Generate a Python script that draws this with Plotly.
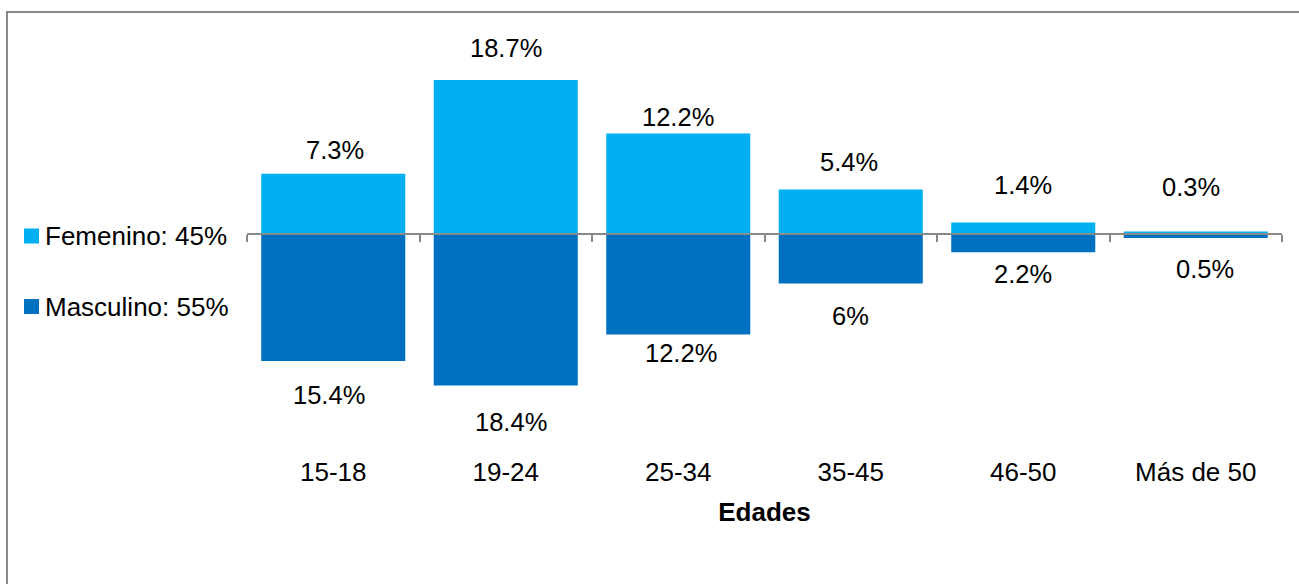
import plotly.graph_objects as go

# Age groups and share of each sex per group (%)
edades = ["15-18", "19-24", "25-34", "35-45", "46-50", "Más de 50"]
femenino = [7.3, 18.7, 12.2, 5.4, 1.4, 0.3]
masculino = [15.4, 18.4, 12.2, 6, 2.2, 0.5]
total_femenino = 45
total_masculino = 55

AZUL_CLARO = "#00B0F0"
AZUL = "#0070C0"
GRIS = "#898989"
FUENTE = "Arial, 'Liberation Sans', sans-serif"
TAM = 26
TAM_ETIQ = 25.5

# Page geometry (pixels)
W, H = 1299, 584
L, R, T, B = 247, 17, 30, 144
plot_w = W - L - R
plot_h = H - T - B
eje_px = 234            # vertical pixel of the zero line
px_por_unidad = 8.24
y_max = (eje_px - T) / px_por_unidad
y_min = -(H - B - eje_px) / px_por_unidad

# Label placement: pixel gap between bar end and label centre, plus small nudges
sep_fem = [24, 32, 16, 28, 37, 45]
sep_masc = [34, 36, 18, 33, 22, 31]
dx_fem = [2, 0, 0, -2, 0, -5]
dx_masc = [-4, 5, 3, 0, 0, 9]


def px_x(px):
    return (px - L) / plot_w


def px_y(py):
    return (H - B - py) / plot_h


fig = go.Figure()
fig.add_trace(go.Bar(x=edades, y=femenino, marker=dict(color=AZUL_CLARO, line=dict(width=0)),
                     name="Femenino", showlegend=False, hoverinfo="skip"))
fig.add_trace(go.Bar(x=edades, y=[-v for v in masculino], marker=dict(color=AZUL, line=dict(width=0)),
                     name="Masculino", showlegend=False, hoverinfo="skip"))
# carrier for the zero axis with boundary ticks
fig.add_trace(go.Scatter(x=edades, y=[0] * len(edades), xaxis="x2", mode="none",
                         showlegend=False, hoverinfo="skip"))

anotaciones = []
for i, (cat, v) in enumerate(zip(edades, femenino)):
    anotaciones.append(dict(x=cat, y=v, yshift=sep_fem[i], xshift=dx_fem[i], text=f"{v:g}%",
                            showarrow=False, yanchor="middle", xanchor="center",
                            font=dict(size=TAM_ETIQ, color="black", family=FUENTE)))
for i, (cat, v) in enumerate(zip(edades, masculino)):
    anotaciones.append(dict(x=cat, y=-v, yshift=-sep_masc[i], xshift=dx_masc[i], text=f"{v:g}%",
                            showarrow=False, yanchor="middle", xanchor="center",
                            font=dict(size=TAM_ETIQ, color="black", family=FUENTE)))

# Legend entries
leyenda = [(f"Femenino: {total_femenino}%", AZUL_CLARO, 236),
           (f"Masculino: {total_masculino}%", AZUL, 306.5)]
formas = []
for texto, color, cy in leyenda:
    formas.append(dict(type="rect", xref="paper", yref="paper",
                       x0=px_x(24), x1=px_x(39), y0=px_y(cy - 7.5), y1=px_y(cy + 7.5),
                       fillcolor=color, line=dict(width=0)))
    anotaciones.append(dict(xref="paper", yref="paper", x=px_x(43), y=px_y(cy), text=texto,
                            showarrow=False, xanchor="left", yanchor="middle",
                            font=dict(size=TAM, color="black", family=FUENTE)))

# Outer frame
formas.append(dict(type="rect", xref="paper", yref="paper", layer="below",
                   x0=px_x(7), x1=px_x(W + 20), y0=px_y(12), y1=px_y(H + 20),
                   line=dict(color=GRIS, width=2), fillcolor="rgba(0,0,0,0)"))

fig.update_layout(
    width=W, height=H,
    margin=dict(l=L, r=R, t=T, b=B, pad=0),
    paper_bgcolor="white", plot_bgcolor="white",
    barmode="overlay", bargap=0.165,
    font=dict(family=FUENTE, size=TAM, color="black"),
    xaxis=dict(type="category", range=[-0.5, len(edades) - 0.5], showline=False, ticks="",
               showgrid=False, zeroline=False, ticklabelstandoff=14,
               tickfont=dict(size=TAM, color="black", family=FUENTE),
               title=dict(text="<b>Edades</b>", standoff=16,
                          font=dict(size=TAM, color="black", family=FUENTE))),
    xaxis2=dict(type="category", overlaying="x", anchor="free",
                position=(H - B - eje_px) / plot_h, range=[-0.5, len(edades) - 0.5],
                showline=True, linecolor=GRIS, linewidth=2, ticks="outside",
                tickson="boundaries", ticklen=7, tickwidth=2, tickcolor=GRIS,
                showticklabels=False, showgrid=False, zeroline=False),
    yaxis=dict(range=[y_min, y_max], visible=False, showgrid=False, zeroline=False),
    shapes=formas,
    annotations=anotaciones,
)

fig.write_html("out.html")
